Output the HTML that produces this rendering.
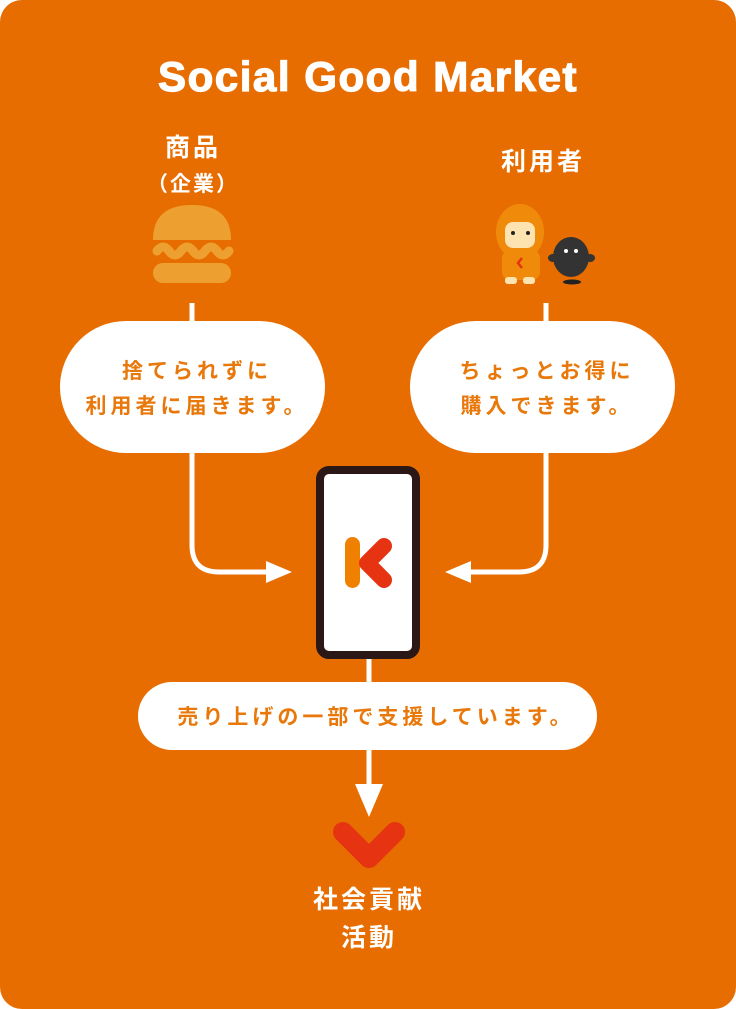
<!DOCTYPE html>
<html><head><meta charset="utf-8"><style>
html,body{margin:0;padding:0;background:#fff;}
svg{display:block;}
text{font-family:"Liberation Sans","Noto Sans CJK JP",sans-serif;font-weight:bold;}
</style></head><body>
<svg width="736" height="1009" viewBox="0 0 736 1009" xmlns="http://www.w3.org/2000/svg">
<rect x="0" y="0" width="736" height="1009" rx="22" fill="#e86d00"/>
<text x="368" y="91" text-anchor="middle" font-size="42" fill="#fff" letter-spacing="1.5" stroke="#fff" stroke-width="1.2" textLength="420" lengthAdjust="spacingAndGlyphs">Social Good Market</text>
<text x="193" y="156" text-anchor="middle" font-size="25" fill="#fff" letter-spacing="3">商品</text>
<text x="193" y="191" text-anchor="middle" font-size="21" fill="#fff" letter-spacing="2">（企業）</text>
<text x="543" y="170" text-anchor="middle" font-size="25" fill="#fff" letter-spacing="3">利用者</text>
<!-- burger -->
<path d="M153 240 Q153 205 192 205 Q231 205 231 240 Z" fill="#eda030"/>
<rect x="153" y="263" width="78" height="20" rx="10" fill="#eda030"/>
<path d="M157 251 q6 -8 12 0 q6 8 12 0 q6 -8 12 0 q6 8 12 0 q6 -8 12 0 q6 8 12 0" stroke="#eda030" stroke-width="9" fill="none" stroke-linecap="round"/>
<!-- characters -->
<ellipse cx="520" cy="232" rx="24" ry="28" fill="#f08a0a"/>
<rect x="505" y="222" width="30" height="26" rx="8" fill="#fde3b0"/>
<circle cx="513" cy="233" r="2" fill="#222"/><circle cx="528" cy="233" r="2" fill="#222"/>
<rect x="502" y="250" width="38" height="30" rx="8" fill="#f08a0a"/>
<path d="M522 258 l-4 5 l4 5" stroke="#e63312" stroke-width="2.5" fill="none"/>
<rect x="505" y="277" width="12" height="7" rx="3" fill="#fde3b0"/><rect x="523" y="277" width="12" height="7" rx="3" fill="#fde3b0"/>
<ellipse cx="571" cy="257" rx="18" ry="20" fill="#333"/>
<ellipse cx="553" cy="258" rx="5" ry="4" fill="#333"/><ellipse cx="590" cy="258" rx="5" ry="4" fill="#333"/>
<circle cx="566" cy="251" r="2" fill="#fff"/><circle cx="576" cy="251" r="2" fill="#fff"/>
<ellipse cx="572" cy="282" rx="9" ry="2.5" fill="#222"/>
<!-- connectors -->
<g stroke="#fff" stroke-width="5" fill="none">
<path d="M192 303 V545 Q192 572 219 572 H272"/>
<path d="M546 303 V545 Q546 572 519 572 H464"/>
<path d="M369 655 V790"/>
</g>
<path d="M292 572 L266 561 L266 583 Z" fill="#fff"/>
<path d="M445 572 L471 561 L471 583 Z" fill="#fff"/>
<path d="M369 817 L355 784 L383 784 Z" fill="#fff"/>
<!-- bubbles -->
<rect x="60" y="321" width="265" height="132" rx="66" fill="#fff"/>
<rect x="410" y="321" width="265" height="132" rx="66" fill="#fff"/>
<g font-size="21" fill="#e8780a" text-anchor="middle" letter-spacing="4">
<text x="197" y="378">捨てられずに</text>
<text x="197" y="413">利用者に届きます。</text>
<text x="547" y="378">ちょっとお得に</text>
<text x="547" y="413">購入できます。</text>
</g>
<!-- phone -->
<rect x="320" y="470" width="96" height="185" rx="9" fill="#fff" stroke="#2b1816" stroke-width="8"/>
<rect x="345" y="537" width="15" height="51" rx="7.5" fill="#f08000"/>
<path d="M384 546 L367 563 L384 580" stroke="#e63312" stroke-width="16" fill="none" stroke-linecap="round" stroke-linejoin="round"/>
<!-- bottom bubble -->
<rect x="138" y="682" width="459" height="68" rx="34" fill="#fff"/>
<text x="376" y="724" text-anchor="middle" font-size="21" fill="#e8780a" letter-spacing="4">売り上げの一部で支援しています。</text>
<path d="M343 832 L369 858 L395 832" stroke="#e63312" stroke-width="20" fill="none" stroke-linecap="round" stroke-linejoin="round"/>
<text x="369" y="908" text-anchor="middle" font-size="25" fill="#fff" letter-spacing="3">社会貢献</text>
<text x="369" y="946" text-anchor="middle" font-size="25" fill="#fff" letter-spacing="3">活動</text>
</svg>
</body></html>
